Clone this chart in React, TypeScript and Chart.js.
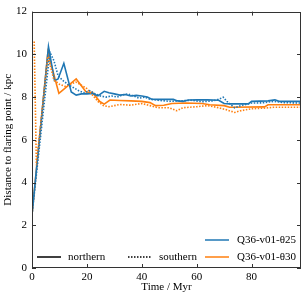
import React, { useEffect, useRef } from "react";
import { Chart, registerables } from "chart.js";

Chart.register(...registerables);

const BLUE = "#1f77b4";
const ORANGE = "#ff7f0e";

// Q36-v01-θ25 northern (solid)
const blueNorthT = [0, 6.0, 8.2, 9.5, 11.6, 14.3, 16.1, 18, 20, 22, 24, 26.3, 28, 30, 32, 34, 36, 38, 40, 42, 43.6, 46, 51.5, 53, 55, 57, 60, 64, 68, 70, 72, 78.8, 80, 86, 88.5, 90, 98];
const blueNorthV = [2.5, 10.36, 8.77, 8.85, 9.58, 8.24, 8.09, 8.15, 8.15, 8.17, 8.06, 8.27, 8.2, 8.15, 8.09, 8.12, 8.05, 8.08, 8.05, 8.0, 7.9, 7.89, 7.89, 7.82, 7.8, 7.86, 7.87, 7.87, 7.85, 7.7, 7.68, 7.68, 7.8, 7.82, 7.87, 7.8, 7.8];

// Q36-v01-θ30 northern (solid)
const orangeNorthT = [0, 5.8, 9.8, 16.1, 19.7, 22, 24.7, 26.3, 28.4, 32, 36, 40, 43, 45, 48, 51, 56, 62, 64.7, 70, 72, 84.7, 86, 98];
const orangeNorthV = [2.5, 10.1, 8.17, 8.85, 8.24, 8.22, 7.79, 7.67, 7.86, 7.84, 7.82, 7.8, 7.74, 7.6, 7.62, 7.7, 7.72, 7.7, 7.64, 7.6, 7.52, 7.54, 7.64, 7.64];

// Q36-v01-θ25 southern (dotted)
const blueSouthT = [0, 6.5, 8, 9.5, 11, 13, 15, 17, 19, 21, 23, 25, 27, 29, 31, 33, 35, 37, 39, 41, 43, 46, 50, 54, 58, 62, 66, 68, 69.7, 71, 73.8, 76, 80, 84, 88, 92, 98];
const blueSouthV = [2.5, 10.1, 9.7, 9.0, 8.8, 8.6, 8.45, 8.3, 8.2, 8.3, 8.15, 8.05, 8.0, 8.05, 8.0, 8.1, 8.15, 8.05, 7.95, 8.0, 7.9, 7.85, 7.8, 7.82, 7.85, 7.78, 7.82, 7.9, 7.99, 7.8, 7.5, 7.6, 7.72, 7.73, 7.8, 7.74, 7.72];

// Q36-v01-θ30 southern (dotted)
const orangeSouthT = [0.8, 1.6, 5.8, 8, 10, 12, 14, 16, 18, 20, 22, 24, 26, 28, 30, 32, 36, 40, 43, 46, 50, 52.7, 55, 60, 64, 68, 71, 73.8, 76, 80, 84, 88, 98];
const orangeSouthV = [10.6, 4.8, 9.9, 8.8, 8.6, 8.5, 8.6, 8.7, 8.55, 8.4, 8.1, 7.8, 7.6, 7.55, 7.6, 7.65, 7.62, 7.7, 7.6, 7.5, 7.5, 7.36, 7.5, 7.55, 7.6, 7.5, 7.4, 7.28, 7.36, 7.45, 7.48, 7.52, 7.52];

const xTicks = [0, 20, 40, 60, 80];
const yTicks = [0, 2, 4, 6, 8, 10, 12];
const seriesLabels = ["Q36-v01-θ25", "Q36-v01-θ30"];
const styleLabels = ["northern", "southern"];

const FONT = "'Liberation Serif', 'DejaVu Serif', serif";
const AXIS = "#333333";
const FS = 11;

const pts = (t: number[], v: number[]) => t.map((x, i) => ({ x, y: v[i] }));

const framePlugin = {
  id: "frame",
  afterDraw(chart: any) {
    const { ctx, chartArea: a, scales } = chart;
    const xs = scales.x;
    const ys = scales.y;
    ctx.save();
    ctx.strokeStyle = AXIS;
    ctx.lineWidth = 1;
    ctx.strokeRect(Math.round(a.left) + 0.5, Math.round(a.top) + 0.5, Math.round(a.right - a.left) - 1, Math.round(a.bottom - a.top) - 1);
    const L = 4;
    ctx.beginPath();
    xTicks.forEach((t) => {
      const px = Math.round(xs.getPixelForValue(t)) + 0.5;
      ctx.moveTo(px, a.bottom);
      ctx.lineTo(px, a.bottom - L);
      ctx.moveTo(px, a.top);
      ctx.lineTo(px, a.top + L);
    });
    yTicks.forEach((t) => {
      const py = Math.round(ys.getPixelForValue(t)) + 0.5;
      ctx.moveTo(a.left, py);
      ctx.lineTo(a.left + L, py);
      ctx.moveTo(a.right, py);
      ctx.lineTo(a.right - L, py);
    });
    ctx.stroke();

    // legend
    ctx.font = `${FS}px ${FONT}`;
    ctx.textBaseline = "middle";
    ctx.fillStyle = "#000";
    ctx.lineWidth = 1.5;
    const rowY1 = 257;
    const rowY0 = 240;
    ctx.strokeStyle = "#000";
    ctx.setLineDash([]);
    ctx.beginPath();
    ctx.moveTo(37, rowY1);
    ctx.lineTo(61, rowY1);
    ctx.stroke();
    ctx.textAlign = "left";
    ctx.fillText(styleLabels[0], 68, rowY1);
    ctx.setLineDash([1.5, 1.5]);
    ctx.beginPath();
    ctx.moveTo(128, rowY1);
    ctx.lineTo(151, rowY1);
    ctx.stroke();
    ctx.fillText(styleLabels[1], 159, rowY1);
    ctx.setLineDash([]);
    [BLUE, ORANGE].forEach((c, i) => {
      const y = i === 0 ? rowY0 : rowY1;
      ctx.strokeStyle = c;
      ctx.beginPath();
      ctx.moveTo(205, y);
      ctx.lineTo(229, y);
      ctx.stroke();
      ctx.fillText(seriesLabels[i], 237, y);
    });
    ctx.restore();
  },
};

export default function App() {
  const ref = useRef<HTMLCanvasElement | null>(null);
  useEffect(() => {
    document.body.style.margin = "0";
    if (!ref.current) return;
    const mk = (label: string, data: any[], color: string, dashed: boolean) => ({
      label,
      data,
      borderColor: color,
      backgroundColor: color,
      borderWidth: 1.6,
      borderDash: dashed ? [1.5, 1.5] : [],
      pointRadius: 0,
      fill: false,
      tension: 0,
    });
    const chart = new Chart(ref.current, {
      type: "line",
      data: {
        datasets: [
          mk(seriesLabels[0] + " south", pts(blueSouthT, blueSouthV), BLUE, true),
          mk(seriesLabels[1] + " south", pts(orangeSouthT, orangeSouthV), ORANGE, true),
          mk(seriesLabels[0], pts(blueNorthT, blueNorthV), BLUE, false),
          mk(seriesLabels[1], pts(orangeNorthT, orangeNorthV), ORANGE, false),
        ],
      },
      options: {
        animation: false,
        responsive: false,
        maintainAspectRatio: false,
        layout: { padding: { top: 4, right: 3, left: 0, bottom: 0 } },
        plugins: { legend: { display: false }, tooltip: { enabled: false } },
        scales: {
          x: {
            type: "linear",
            min: 0,
            max: 98,
            afterBuildTicks: (s: any) => {
              s.ticks = xTicks.map((v) => ({ value: v }));
            },
            afterFit: (s: any) => {
              s.height = 31;
            },
            grid: { display: false, drawTicks: false },
            border: { display: false },
            ticks: { padding: 3, color: "#000", font: { family: FONT, size: FS }, maxRotation: 0 },
            title: { display: true, text: "Time / Myr", color: "#000", font: { family: FONT, size: FS }, padding: { top: 0, bottom: 5 } },
          },
          y: {
            type: "linear",
            min: 0,
            max: 12,
            afterBuildTicks: (s: any) => {
              s.ticks = yTicks.map((v) => ({ value: v }));
            },
            afterFit: (s: any) => {
              s.width = 32;
            },
            grid: { display: false, drawTicks: false },
            border: { display: false },
            ticks: { padding: 5, color: "#000", font: { family: FONT, size: FS } },
            title: { display: true, text: "Distance to flaring point / kpc", color: "#000", font: { family: FONT, size: FS }, padding: { top: 2, bottom: 0 } },
          },
        },
      },
      plugins: [framePlugin],
    } as any);
    return () => chart.destroy();
  }, []);
  return <canvas ref={ref} width={304} height={299} style={{ display: "block" }} />;
}
